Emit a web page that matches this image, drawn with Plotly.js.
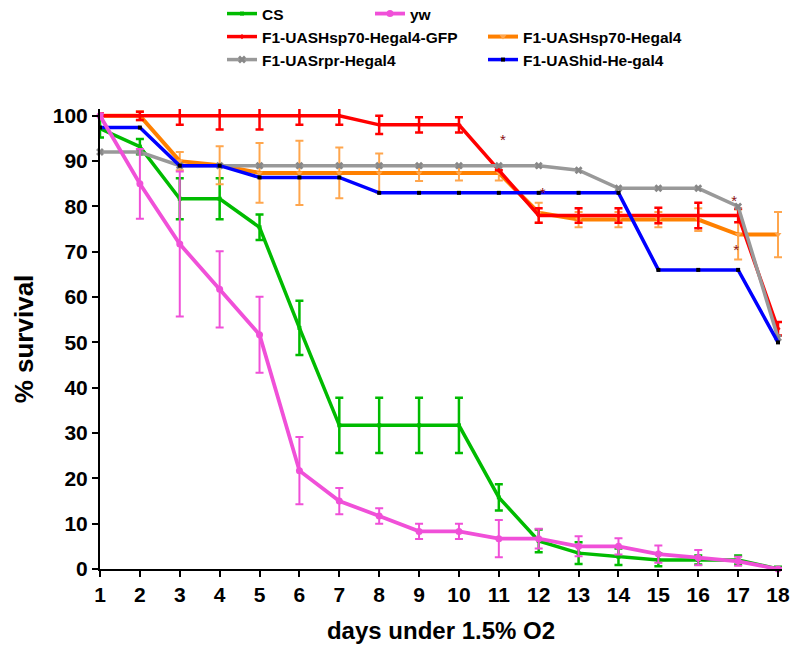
<!DOCTYPE html>
<html>
<head>
<meta charset="utf-8">
<script src="https://cdn.plot.ly/plotly-3.0.1.min.js"></script>
<style>html,body{margin:0;padding:0;background:#fff;}#chart{width:793px;height:650px;}</style>
</head>
<body>
<div id="chart"></div>
<script>
const days = [1,2,3,4,5,6,7,8,9,10,11,12,13,14,15,16,17,18];

const csVals = [97.2, 93.2, 81.7, 81.7, 75.4, 53.2, 31.7, 31.7, 31.7, 31.7, 15.8, 6.2, 3.5, 2.7, 2.0, 2.0, 2.0, 0];
const csErr  = [2, 1.7, 4.5, 4.5, 2.8, 6, 6.1, 6.1, 6.1, 6.1, 2.9, 2.5, 2.4, 1.8, 1.4, 1, 1, 0.5];

const ywVals = [100, 85, 71.7, 61.7, 51.7, 21.7, 15, 11.7, 8.3, 8.3, 6.7, 6.7, 5, 5, 3.3, 2.5, 1.7, 0];
const ywErr  = [0.5, 7.7, 16, 8.4, 8.4, 7.4, 2.9, 1.7, 1.7, 1.7, 4.1, 2.2, 2.2, 1.8, 1.9, 1.7, 1, 0.3];

const gfpVals = [100, 100, 100, 100, 100, 100, 100, 98, 98, 98, 88, 78, 78, 78, 78, 78, 78, 53];
const gfpErr  = [0.5, 0.9, 2, 3, 3, 2, 2, 2, 1.7, 1.7, 0, 1.6, 1.6, 1.6, 1.7, 2.8, 1.5, 1.5];

const hsp70Vals = [100, 100, 90, 89.1, 87.4, 87.4, 87.4, 87.4, 87.4, 87.4, 87.4, 78.6, 77.1, 77.1, 77.1, 77.1, 73.8, 73.8];
const hsp70Err  = [0.5, 1, 2, 4.2, 6.6, 7.1, 5.6, 4.3, 1.8, 1.7, 1.7, 2.2, 1.7, 1.7, 1.7, 2.5, 5.5, 5];

const rprVals = [92, 92, 89, 89, 89, 89, 89, 89, 89, 89, 89, 89, 88, 84, 84, 84, 80, 51];
const hidVals = [97.4, 97.4, 89, 89, 86.4, 86.4, 86.4, 83, 83, 83, 83, 83, 83, 83, 66, 66, 66, 50];

const starX = [11.1, 12.1, 16.9, 16.95];
const starY = [94.4, 82.7, 81.0, 70.1];

const names = ['CS', 'yw', 'F1-UASHsp70-Hegal4-GFP', 'F1-UASHsp70-Hegal4', 'F1-UASrpr-Hegal4', 'F1-UAShid-He-gal4'];
const yTicks = [0,10,20,30,40,50,60,70,80,90,100];

const FONT = 'Liberation Sans, Arial, Helvetica, sans-serif';

function errBar(arr, color, th) {
  return {type: 'data', array: arr, visible: true, color: color, thickness: th, width: 4};
}

const traces = [
  {x: days, y: csVals, name: names[0], type: 'scatter', mode: 'lines+markers', legend: 'legend', legendrank: 1,
   line: {color: '#00BB00', width: 3.5}, marker: {symbol: 'square', size: 4, color: '#00BB00'},
   error_y: errBar(csErr, '#00BB00', 2.5), cliponaxis: false},
  {x: days, y: hsp70Vals, name: names[3], type: 'scatter', mode: 'lines+markers', legend: 'legend2', legendrank: 2,
   line: {color: '#FF8000', width: 4}, marker: {symbol: 'triangle-down', size: 6, color: '#FFA64D'},
   error_y: errBar(hsp70Err, '#FFA64D', 2), cliponaxis: false},
  {x: days, y: gfpVals, name: names[2], type: 'scatter', mode: 'lines+markers', legend: 'legend2', legendrank: 1,
   line: {color: '#FF0000', width: 3.5}, marker: {symbol: 'diamond', size: 4, color: '#FF0000'},
   error_y: errBar(gfpErr, '#FF0000', 2.5), cliponaxis: false},
  {x: days, y: rprVals, name: names[4], type: 'scatter', mode: 'lines+markers', legend: 'legend3', legendrank: 1,
   line: {color: '#999999', width: 3.5}, marker: {symbol: 'x', size: 7, color: '#888888'},
   cliponaxis: false},
  {x: days, y: hidVals, name: names[5], type: 'scatter', mode: 'lines+markers', legend: 'legend3', legendrank: 2,
   line: {color: '#0000FF', width: 3.5}, marker: {symbol: 'square', size: 4, color: '#000000'},
   cliponaxis: false},
  {x: days, y: ywVals, name: names[1], type: 'scatter', mode: 'lines+markers', legend: 'legend', legendrank: 2,
   line: {color: '#F050D8', width: 3.8}, marker: {symbol: 'circle', size: 7, color: '#F050D8'},
   error_y: errBar(ywErr, '#F050D8', 2), cliponaxis: false},
  {x: starX, y: starY, type: 'scatter', mode: 'text', text: starX.map(() => '*'), showlegend: false,
   textfont: {family: FONT, size: 15, color: '#8B1010'}, hoverinfo: 'skip', cliponaxis: false}
];

const legendBase = {
  orientation: 'h', xref: 'container', yref: 'container', xanchor: 'left', yanchor: 'middle',
  bgcolor: 'rgba(0,0,0,0)', borderwidth: 0, traceorder: 'normal',
  font: {family: FONT, size: 15.5, color: '#000', weight: 700}
};

const layout = {
  width: 793, height: 650,
  margin: {l: 100, r: 11, t: 109, b: 81},
  paper_bgcolor: '#ffffff', plot_bgcolor: '#ffffff',
  font: {family: FONT, color: '#000'},
  showlegend: true,
  legend: Object.assign({}, legendBase, {x: 222/793, y: 1 - 14/650, entrywidth: 103}),
  legend2: Object.assign({}, legendBase, {x: 222/793, y: 1 - 37/650, entrywidth: 216}),
  legend3: Object.assign({}, legendBase, {x: 222/793, y: 1 - 60/650, entrywidth: 216}),
  xaxis: {
    range: [1, 18.1], tickmode: 'array', tickvals: days, ticktext: days.map(String),
    showgrid: false, zeroline: false, showline: true, linecolor: '#000', linewidth: 2,
    ticks: 'outside', ticklen: 6, tickwidth: 2, tickcolor: '#000',
    tickfont: {family: FONT, size: 21, color: '#000', weight: 700},
    title: {text: 'days under 1.5% O2', font: {family: FONT, size: 24, color: '#000', weight: 700}, standoff: 17},
    automargin: false
  },
  yaxis: {
    range: [0, 101.5], tickmode: 'array', tickvals: yTicks, ticktext: yTicks.map(String),
    showgrid: false, zeroline: false, showline: true, linecolor: '#000', linewidth: 2,
    ticks: 'outside', ticklen: 6, tickwidth: 2, tickcolor: '#000',
    tickfont: {family: FONT, size: 21, color: '#000', weight: 700},
    title: {text: '% survival', font: {family: FONT, size: 26, color: '#000', weight: 700}, standoff: 12},
    automargin: false
  }
};

Plotly.newPlot('chart', traces, layout, {displayModeBar: false, staticPlot: true});
</script>
</body>
</html>
